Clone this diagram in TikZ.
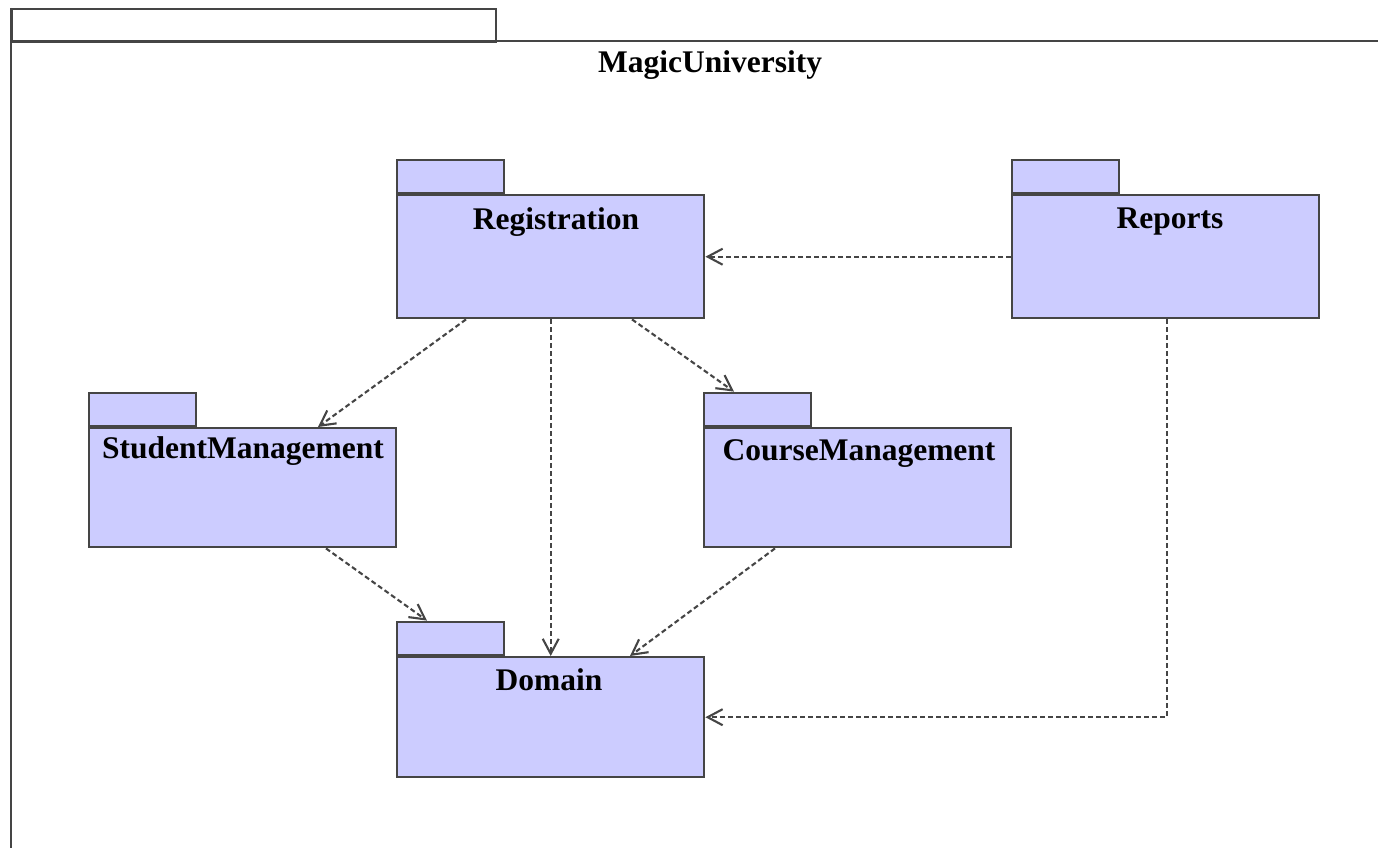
\documentclass[tikz,border=0pt]{standalone}
\usepackage{fontspec}
\setmainfont{Liberation Serif}
\usetikzlibrary{arrows.meta,calc}

\definecolor{pkgfill}{HTML}{CCCCFF}
\definecolor{pkgline}{HTML}{454545}

\tikzset{
  pkgbody/.style={draw=pkgline, line width=2.4pt, fill=pkgfill, inner sep=0pt,
    anchor=north west, minimum width=307pt},
  pkgtab/.style={draw=pkgline, line width=2.4pt, fill=pkgfill, inner sep=0pt,
    anchor=south west, minimum width=107pt, minimum height=33pt},
  pkglabel/.style={anchor=base, inner sep=0pt,
    font=\fontsize{31.5}{38}\selectfont\bfseries},
  dep/.style={draw=pkgline, line width=2.1pt, dash pattern=on 5pt off 3pt,
    -{Straight Barb[length=15pt,width=16pt,line width=2.1pt]}},
  framestroke/.style={draw=pkgline, line width=2.4pt}
}

\begin{document}
\begin{tikzpicture}[x=1pt,y=-1pt]
  \useasboundingbox (0,0) rectangle (1378,848);

  % outer package frame with its tab
  \node[framestroke, inner sep=0pt, anchor=north west, minimum width=484pt,
        minimum height=33pt] (frametab) at (11,8) {};
  \draw[framestroke] (11,41) -- (1385,41);
  \draw[framestroke] (11,8) -- (11,856);
  \node[pkglabel] (title) at (710,73) {MagicUniversity};

  % Registration
  \node[pkgbody, minimum height=123pt] (reg) at (396,194) {};
  \node[pkgtab] (regtab) at (reg.north west) {};
  \node[pkglabel] (reglbl) at (556,229) {Registration};

  % Reports
  \node[pkgbody, minimum height=123pt] (rep) at (1011,194) {};
  \node[pkgtab] (reptab) at (rep.north west) {};
  \node[pkglabel] (replbl) at (1170,228) {Reports};

  % StudentManagement
  \node[pkgbody, minimum height=119pt] (stud) at (88,427) {};
  \node[pkgtab] (studtab) at (stud.north west) {};
  \node[pkglabel] (studlbl) at (243,458) {StudentManagement};

  % CourseManagement
  \node[pkgbody, minimum height=119pt] (course) at (703,427) {};
  \node[pkgtab] (coursetab) at (course.north west) {};
  \node[pkglabel] (courselbl) at (859,460) {CourseManagement};

  % Domain
  \node[pkgbody, minimum height=120pt] (dom) at (396,656) {};
  \node[pkgtab] (domtab) at (dom.north west) {};
  \node[pkglabel] (domlbl) at (549,690) {Domain};

  % dependencies
  \draw[dep] (rep.west) -- (reg.east);
  \draw[dep] ($(reg.south west)+(70,0)$) -- ($(stud.north west)+(230,0)$);
  \draw[dep] (reg.south) -- (dom.north);
  \draw[dep] ($(reg.south west)+(236,0)$) -- ($(coursetab.north west)+(31,0)$);
  \draw[dep] ($(stud.south west)+(238,0)$) -- ($(domtab.north west)+(31,0)$);
  \draw[dep] ($(course.south west)+(72,0)$) -- ($(dom.north west)+(234,0)$);
  \draw[dep] ($(rep.south west)+(156,0)$) |- (dom.east);
\end{tikzpicture}
\end{document}
